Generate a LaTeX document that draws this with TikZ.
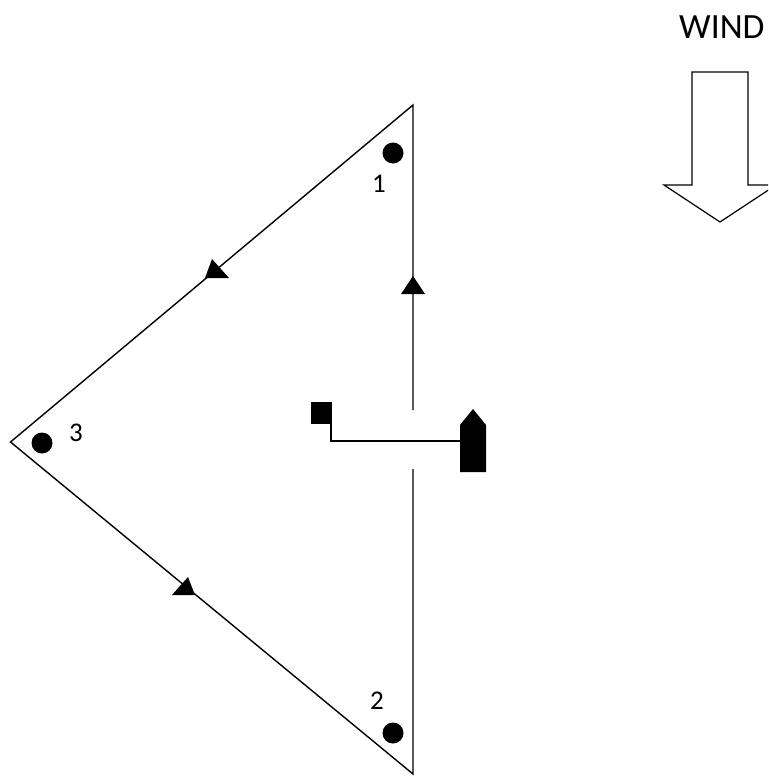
\documentclass[tikz,border=0pt]{standalone}
\usepackage{fontspec}
\setmainfont{Carlito}
\tikzset{
  lbl/.style={inner sep=0pt,anchor=base,font=\fontsize{27}{27}\selectfont,text=black},
  windlbl/.style={inner sep=0pt,anchor=base west,font=\fontsize{35.5}{36}\selectfont,text=black},
  mark dot/.style={circle,fill=black,draw=none,minimum size=21pt,inner sep=0pt},
  buoy/.style={rectangle,fill=black,draw=none,minimum width=21pt,minimum height=22pt,inner sep=0pt},
  course/.style={draw=black,line width=1.4pt},
  solid tri/.style={fill=black,draw=none}
}
\begin{document}
\begin{tikzpicture}[x=1pt,y=-1pt]
\useasboundingbox (0,0) rectangle (768,776);
\clip (0,0) rectangle (768,776);
% course vertices
\coordinate (top) at (413,105);
\coordinate (left) at (10.5,442);
\coordinate (bot) at (413,774);
\coordinate (gapa) at (413,410);
\coordinate (gapb) at (413,469);
\draw[course] (gapa) -- (top) -- (left) -- (bot) -- (gapb);
% arrowheads on the course
\fill[solid tri] (413,276) -- (401,294) -- (425,294) -- cycle;
\fill[solid tri] (212,259) -- (205,278) -- (229,278) -- cycle;
\fill[solid tri] (188,577) -- (172,595) -- (195,595) -- cycle;
% marks
\node[mark dot] (m1) at (393,153) {};
\node[mark dot] (m2) at (393,733) {};
\node[mark dot] (m3) at (42,443) {};
\node[lbl] (t1) at (379,192) {1};
\node[lbl] (t2) at (377,709) {2};
\node[lbl] (t3) at (76,441) {3};
% start line
\node[buoy] (pin) at (321.5,413) {};
\coordinate (pinfoot) at (331,424);
\coordinate (corner) at (331,441);
\coordinate (boatside) at (461,441);
\draw[course] (pinfoot) -- (corner) -- (boatside);
\fill[black] (460,472) -- (460,425) -- (473,409) -- (486,425) -- (486,472) -- cycle;
% wind
\node[windlbl] (wind) at (679,38) {WIND};
\draw[draw=black,line width=1.2pt,line join=miter]
  (692,72) -- (748,72) -- (748,185) -- (776,185) -- (720,222) -- (664,185) -- (692,185) -- cycle;
\end{tikzpicture}
\end{document}
